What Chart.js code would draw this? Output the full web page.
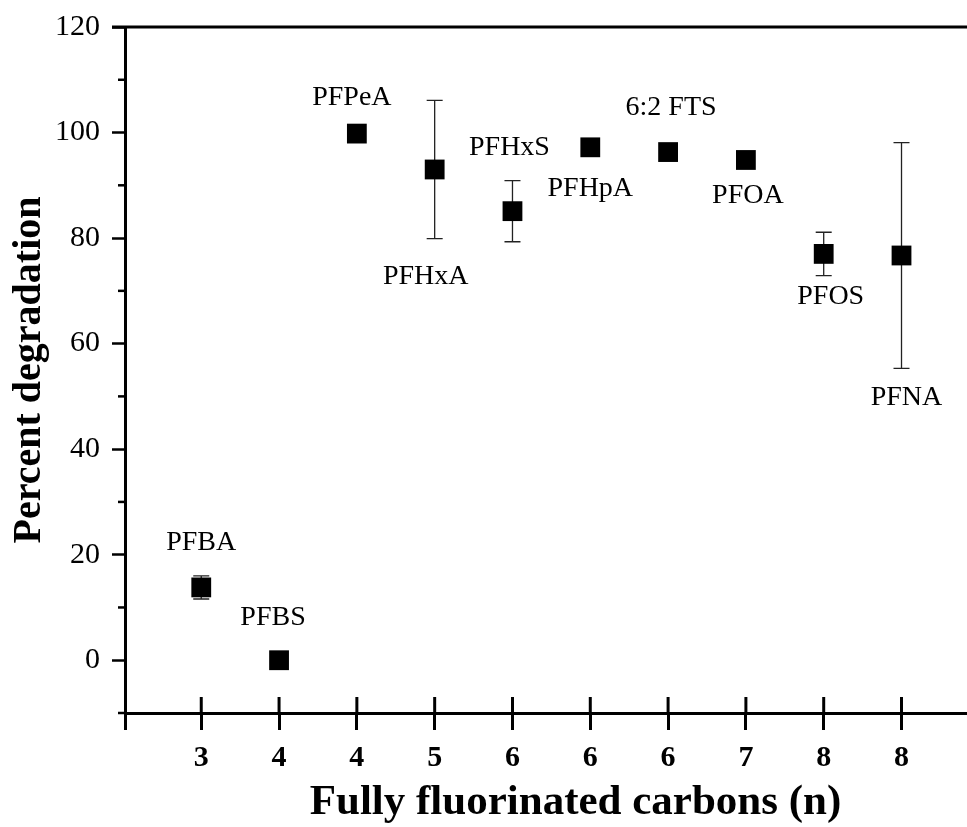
<!DOCTYPE html>
<html>
<head>
<meta charset="utf-8">
<script src="https://cdn.jsdelivr.net/npm/chart.js@4"></script>
<style>
  html, body { margin: 0; padding: 0; background: #fff; overflow: hidden; }
  #wrap { width: 1040px; height: 827px; }
</style>
</head>
<body>
<div id="wrap"><canvas id="scatter" width="1040" height="827"></canvas></div>
<script>
// values
const compounds = ['PFBA', 'PFBS', 'PFPeA', 'PFHxA', 'PFHxS', 'PFHpA', '6:2 FTS', 'PFOA', 'PFOS', 'PFNA'];
const carbons = ['3', '4', '4', '5', '6', '6', '6', '7', '8', '8'];
const degradation = [13.8, 0, 99.8, 93.0, 85.1, 97.2, 96.3, 94.8, 77.0, 76.7];
const errors = [2.2, 0, 0, 13.1, 5.8, 0, 0, 0, 4.1, 21.4];
const yTicks = [0, 20, 40, 60, 80, 100, 120];
const yMinor = [-10, 10, 30, 50, 70, 90, 110];

// label placement relative to each marker (px)
const labelOffsets = [[0, -45], [-6, -43], [-5, -36], [-9, 107], [-3, -64],
                      [0, 41], [3, -44], [2, 36], [7, 43], [5, 142]];

const serif = "'Liberation Serif', 'Times New Roman', serif";

const extras = {
    id: 'extras',
    beforeDatasetsDraw(chart) {
        const c = chart.ctx, x = chart.scales.x, y = chart.scales.y;
        c.save();
        c.strokeStyle = '#222';
        c.lineWidth = 1.3;
        errors.forEach((e, i) => {
            if (!e) return;
            const px = x.getPixelForValue(i);
            const top = y.getPixelForValue(degradation[i] + e);
            const bot = y.getPixelForValue(degradation[i] - e);
            c.beginPath();
            c.moveTo(px, top); c.lineTo(px, bot);
            c.moveTo(px - 8, top); c.lineTo(px + 8, top);
            c.moveTo(px - 8, bot); c.lineTo(px + 8, bot);
            c.stroke();
        });
        c.restore();
    },
    afterDraw(chart) {
        const c = chart.ctx, x = chart.scales.x, y = chart.scales.y;
        const area = chart.chartArea;
        c.save();
        c.strokeStyle = '#000';
        // top frame line
        c.lineWidth = 3;
        c.beginPath();
        c.moveTo(area.left - 13, area.top);
        c.lineTo(area.right, area.top);
        c.stroke();
        // minor y ticks
        c.lineWidth = 2.5;
        yMinor.forEach(v => {
            const py = y.getPixelForValue(v);
            c.beginPath();
            c.moveTo(area.left - 7, py); c.lineTo(area.left, py);
            c.stroke();
        });
        // inner half of x ticks
        c.lineWidth = 3;
        carbons.forEach((_, i) => {
            const px = x.getPixelForValue(i);
            c.beginPath();
            c.moveTo(px, area.bottom - 16); c.lineTo(px, area.bottom);
            c.stroke();
        });
        // compound labels
        c.fillStyle = '#000';
        c.font = '28px ' + serif;
        c.textAlign = 'center';
        c.textBaseline = 'middle';
        compounds.forEach((name, i) => {
            const px = x.getPixelForValue(i) + labelOffsets[i][0];
            const py = y.getPixelForValue(degradation[i]) + labelOffsets[i][1];
            c.fillText(name, px, py);
        });
        c.restore();
    }
};

const ctx = document.getElementById('scatter').getContext('2d');
const scatter = new Chart(ctx, {
    type: 'scatter',
    data: {
        datasets: [{
            label: 'Percent degradation',
            data: degradation.map((v, i) => ({x: i, y: v})),
            pointStyle: 'rect',
            pointRadius: 14,
            pointHoverRadius: 14,
            backgroundColor: '#000',
            borderColor: '#000',
            borderWidth: 0
        }]
    },
    options: {
        responsive: false,
        animation: false,
        devicePixelRatio: 1,
        layout: { padding: { top: 25, right: 0, left: 0, bottom: 0 } },
        plugins: {
            legend: { display: false },
            tooltip: { enabled: false }
        },
        scales: {
            x: {
                type: 'linear',
                min: -0.98,
                max: 10.6,
                afterBuildTicks: (scale) => {
                    scale.ticks = [{value: scale.min}].concat(carbons.map((_, i) => ({value: i})));
                },
                afterFit: (scale) => { scale.height = 114; },
                border: { display: true, color: '#000', width: 3 },
                grid: { drawOnChartArea: false, color: '#000', tickLength: 17, tickWidth: 3 },
                ticks: {
                    autoSkip: false,
                    maxRotation: 0,
                    padding: 10,
                    color: '#000',
                    font: { family: serif, size: 30, weight: 'bold' },
                    callback: (v) => (Number.isInteger(v) && v >= 0 && v < carbons.length) ? carbons[v] : ''
                },
                title: {
                    display: true,
                    text: 'Fully fluorinated carbons (n)',
                    color: '#000',
                    font: { family: serif, size: 43, weight: 'bold', lineHeight: 1.1 },
                    padding: { top: 0, bottom: 0 }
                }
            },
            y: {
                min: -10,
                max: 120,
                afterBuildTicks: (scale) => {
                    scale.ticks = yTicks.map(v => ({value: v}));
                },
                afterFit: (scale) => { scale.width = 125; },
                border: { display: true, color: '#000', width: 3 },
                grid: { drawOnChartArea: false, color: '#000', tickLength: 13, tickWidth: 2.5 },
                ticks: {
                    padding: 12,
                    color: '#000',
                    font: { family: serif, size: 30, lineHeight: 1 }
                },
                title: {
                    display: true,
                    text: 'Percent degradation',
                    color: '#000',
                    font: { family: serif, size: 40, weight: 'bold', lineHeight: 1.2 },
                    padding: { top: 6, bottom: 0 }
                }
            }
        }
    },
    plugins: [extras]
});
</script>
</body>
</html>
